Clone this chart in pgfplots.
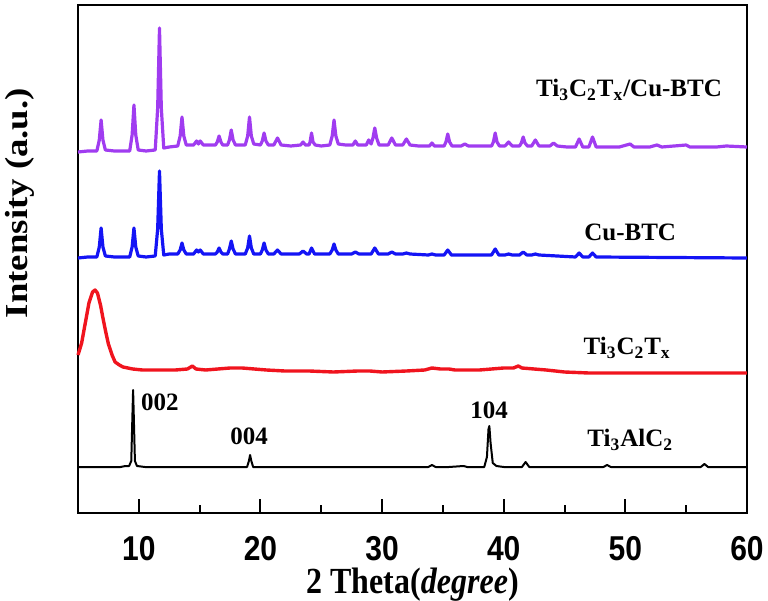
\documentclass[border=0pt]{standalone}
\usepackage{fontspec}
\setmainfont{Liberation Serif}
\setsansfont{Liberation Sans}
\usepackage{graphicx}
\usepackage{pgfplots}
\pgfplotsset{compat=1.18}
\definecolor{mypurple}{RGB}{160,60,240}
\definecolor{myblue}{RGB}{20,20,245}
\definecolor{myred}{RGB}{240,20,30}
\begin{document}
\begin{tikzpicture}
\path[use as bounding box] (-39pt,-44pt) rectangle (345pt,256.5pt);
\begin{axis}[
  at={(0,0)}, anchor=south west,
  scale only axis, width=334.5pt, height=254pt,
  xmin=5, xmax=60, ymin=0, ymax=508,
  clip=false,
  line width=1.2pt,
  xtick={10,20,30,40,50,60},
  minor xtick={15,25,35,45,55},
  ytick={-1000},
  tick align=inside,
  xtick pos=left,
  major tick length=7pt, minor tick length=4pt,
  every tick/.append style={line width=1pt, black},
  /pgf/number format/assume math mode=true,
  xticklabel={\scalebox{1}[1.15]{\pgfmathprintnumber{\tick}}},
  xticklabel style={font=\fontsize{15}{17}\selectfont\sffamily\bfseries, yshift=-8pt},
  xlabel={\scalebox{1}[1.15]{2 Theta(\textit{degree})}},
  xlabel style={font=\fontsize{16}{19}\selectfont\bfseries, at={(axis description cs:0.5,0)}, anchor=center, yshift=-36pt},
  ylabel={\scalebox{1.15}[1]{Intensity (a.u.)}},
  ylabel style={font=\fontsize{16}{19}\selectfont\bfseries, at={(axis description cs:0,0.61)}, anchor=center, rotate=0, yshift=29pt},
]
% Ti3AlC2
\addplot[black, line width=1pt, mark=none, line join=round] coordinates {
(5,46)(8.5,46)(8.9,47)(9.2,47)(9.38,52)(9.48,100)(9.53,123)(9.58,100)(9.68,52)(9.85,47)(10.5,46)(15,46)(18.9,46)(19.05,52)(19.15,58)(19.25,52)(19.4,46)(25,46)(33.8,46)(34.1,48)(34.4,46)(35.5,46)(36.7,47)(37,46)(38.4,46)(38.62,56)(38.75,84)(38.82,87)(38.92,70)(39.1,50)(39.4,47)(40,46)(41.5,46)(41.8,51)(42.1,46)(48.2,46)(48.5,48)(48.8,46)(56.2,46)(56.5,49)(56.8,46)(60,46)
};
% Ti3C2Tx
\addplot[myred, line width=1.7pt, mark=none, line join=round] coordinates {
(5,158)(5.3,170)(5.6,190)(5.9,210)(6.2,221)(6.4,223)(6.6,220)(6.85,208)(7.05,195)(7.3,180)(7.5,169)(7.8,158)(8.05,151)(8.4,148)(8.7,146)(9.5,144)(10.3,143)(11.5,143)(13,143)(14.0,144)(14.4,147)(14.7,144)(15.5,143)(16.5,144)(17.5,145)(18.5,145)(19.5,144)(20.5,143)(22,142)(24,142)(26,141)(28,142)(29,142)(30,141)(32,142)(33.5,143)(34.1,145)(34.8,144)(35.5,144)(36,143)(37,143)(38,143)(39,144)(40,145)(40.8,145)(41.2,147)(41.5,145)(42.5,144)(43.5,143)(45,141)(47,140)(50,140)(52,140)(55,140)(58,140)(60,140)
};
% Cu-BTC
\addplot[myblue, line width=1.6pt, mark=none, line join=round] coordinates {
(5,255)(5.8,256)(6.55,256)(6.75,266)(6.9,285)(7.05,266)(7.25,257)(8.0,256)(9.25,256)(9.45,266)(9.6,285)(9.75,266)(9.95,257)(10.6,256)(11.35,257)(11.55,284)(11.7,342)(11.85,284)(12.05,258)(12.5,259)(13.2,259)(13.4,263)(13.55,270)(13.7,263)(13.9,259)(14.5,259)(14.75,263)(14.9,261)(15.05,263)(15.3,259)(16.3,259)(16.45,261)(16.6,265)(16.75,261)(16.9,259)(17.3,259)(17.45,264)(17.6,272)(17.75,264)(17.95,259)(18.75,259)(18.95,265)(19.1,277)(19.25,265)(19.45,259)(20.0,259)(20.15,263)(20.3,270)(20.45,263)(20.65,259)(21.1,259)(21.4,263)(21.7,259)(23.2,259)(23.5,262)(23.8,259)(24.0,259)(24.2,265)(24.45,259)(25.7,259)(25.9,263)(26.05,269)(26.2,263)(26.4,259)(27.5,259)(27.8,261)(28.1,259)(29.1,259)(29.4,265)(29.7,259)(30.5,259)(30.8,261)(31.1,259)(31.7,259)(32.0,260)(32.3,259)(33.8,258)(34.1,259)(34.4,258)(35.1,258)(35.4,263)(35.7,258)(39.0,258)(39.3,264)(39.6,258)(40.1,258)(40.4,259)(40.7,258)(41.3,258)(41.6,261)(41.9,258)(42.3,258)(42.6,259)(42.9,258)(45.9,256)(46.2,260)(46.5,256)(47.0,256)(47.3,260)(47.6,256)(60,255)
};
% Ti3C2Tx/Cu-BTC
\addplot[mypurple, line width=1.6pt, mark=none, line join=round] coordinates {
(5,361)(5.8,362)(6.55,362)(6.75,373)(6.9,393)(7.05,373)(7.25,363)(8.0,362)(9.25,362)(9.45,378)(9.6,408)(9.75,378)(9.95,363)(10.6,362)(11.35,363)(11.55,405)(11.7,485)(11.85,405)(12.05,365)(12.5,366)(13.2,367)(13.4,377)(13.55,396)(13.7,377)(13.9,368)(14.5,368)(14.75,372)(14.9,369)(15.05,372)(15.3,368)(16.3,368)(16.45,371)(16.6,377)(16.75,371)(16.9,368)(17.3,368)(17.45,373)(17.6,383)(17.75,373)(17.95,368)(18.75,368)(18.95,377)(19.1,396)(19.25,377)(19.45,369)(20.0,368)(20.15,372)(20.3,380)(20.45,372)(20.65,368)(21.1,368)(21.4,375)(21.7,368)(22.5,367)(23.3,368)(23.5,371)(23.7,368)(24.0,368)(24.08,371)(24.2,380)(24.32,371)(24.5,368)(25.0,367)(25.7,368)(25.9,377)(26.05,393)(26.2,377)(26.4,369)(27.0,368)(27.6,368)(27.8,372)(28.0,368)(28.7,368)(28.9,373)(29.1,369)(29.25,375)(29.4,385)(29.55,375)(29.75,368)(30.5,368)(30.8,375)(31.1,368)(31.7,368)(32.0,374)(32.3,368)(33,367)(33.9,367)(34.1,370)(34.3,367)(35.1,367)(35.25,371)(35.4,379)(35.55,371)(35.75,367)(36.5,367)(36.8,369)(37.1,367)(38,367)(39.0,367)(39.15,371)(39.3,380)(39.45,371)(39.65,367)(40.1,367)(40.4,371)(40.7,367)(41.3,367)(41.45,370)(41.6,376)(41.75,370)(41.95,367)(42.3,367)(42.6,373)(42.9,367)(43.8,367)(44.1,370)(44.4,367)(45.2,366)(45.9,366)(46.2,374)(46.5,366)(47.0,366)(47.3,376)(47.6,366)(48.5,366)(49.5,366)(50.4,369)(50.7,366)(52.0,366)(52.6,368)(53.0,366)(55.0,368)(55.3,366)(57.5,366)(58.3,367)(60,366)
};
\begin{scope}[every node/.style={font=\fontsize{12.5}{15}\selectfont\bfseries, inner sep=0pt}]
\node[anchor=west] at (axis cs:10.1,111) {002};
\node at (axis cs:19.06,77) {004};
\node at (axis cs:38.8,103) {104};
\node at (axis cs:50.4,73) {Ti\textsubscript{3}AlC\textsubscript{2}};
\node at (axis cs:50.15,165) {Ti\textsubscript{3}C\textsubscript{2}T\textsubscript{x}};
\node at (axis cs:50.4,281) {Cu-BTC};
\node at (axis cs:50.3,423) {Ti\textsubscript{3}C\textsubscript{2}T\textsubscript{x}/Cu-BTC};
\end{scope}
\end{axis}
\end{tikzpicture}
\end{document}
